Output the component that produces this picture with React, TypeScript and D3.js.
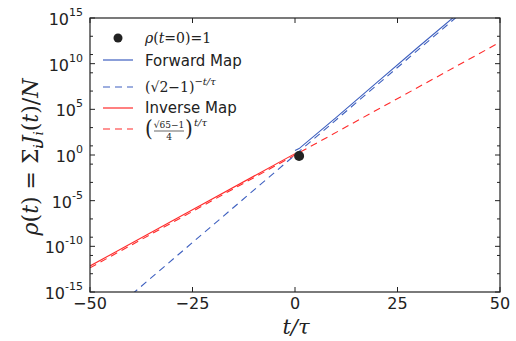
import React from "react";
import * as d3 from "d3";

// values are [t/tau, log10(rho)]
const forwardMap: [number, number][] = [[0, 0.5], [1, 0.7], [10, 4.1], [20, 7.95], [30, 11.8], [39, 15.2]];
const forwardFit: [number, number][] = [[-42, -16.1], [0, 0], [42, 16.1]];
const inverseMap: [number, number][] = [[-50, -12.15], [-25, -6.0], [0, 0.15]];
const inverseFit: [number, number][] = [[-50, -12.35], [0, 0], [50, 12.35]];
const startPoint: [number, number] = [1, -0.1];

const xTicks = [-50, -25, 0, 25, 50];
const yMajor = [15, 10, 5, 0, -5, -10, -15];
const yMinor = [13, 11, 9, 7, 3, 1, -1, -3, -7, -9, -11, -13];

const W = 516, H = 341;
const m = { left: 90, right: 16, top: 18, bottom: 49 };
const BLUE = "#3d5fbf";
const RED = "#ff2a2a";
const SANS = "'DejaVu Sans', sans-serif";
const SERIF = "'DejaVu Serif', 'Liberation Serif', serif";

export default function App() {
  const x = d3.scaleLinear().domain([-50, 50]).range([m.left, W - m.right]);
  const y = d3.scaleLinear().domain([-15, 15]).range([H - m.bottom, m.top]);
  const line = d3.line<[number, number]>().x(d => x(d[0])).y(d => y(d[1]));
  const x0 = m.left, x1 = W - m.right, y0 = H - m.bottom, y1 = m.top;

  const leg = { x: 103, x2: 133, tx: 145 };

  return (
    <svg width={W} height={H} style={{ position: "absolute", left: 0, top: 0, background: "#fff" }}>
      <defs>
        <clipPath id="plot"><rect x={x0} y={y1} width={x1 - x0} height={y0 - y1} /></clipPath>
      </defs>
      <g clipPath="url(#plot)" fill="none" strokeWidth={1.1}>
        <path d={line(forwardMap)!} stroke={BLUE} />
        <path d={line(inverseMap)!} stroke={RED} />
        <path d={line(forwardFit)!} stroke={BLUE} strokeDasharray="7,5" />
        <path d={line(inverseFit)!} stroke={RED} strokeDasharray="7,5" />
      </g>
      <circle cx={x(startPoint[0])} cy={y(startPoint[1])} r={5} fill="#222" />

      {/* frame */}
      <rect x={x0} y={y1} width={x1 - x0} height={y0 - y1} fill="none" stroke="#222" strokeWidth={1.2} />

      {/* x ticks */}
      {xTicks.map(t => (
        <g key={"x" + t}>
          <line x1={x(t)} x2={x(t)} y1={y0} y2={y0 - 5} stroke="#222" />
          <line x1={x(t)} x2={x(t)} y1={y1} y2={y1 + 5} stroke="#222" />
          <text x={x(t)} y={y0 + 17} textAnchor="middle" fontFamily={SANS} fontSize={16} fill="#222">
            {t < 0 ? "\u2212" + Math.abs(t) : t}
          </text>
        </g>
      ))}

      {/* y ticks */}
      {yMajor.map(v => (
        <g key={"y" + v}>
          <line x1={x0} x2={x0 + 5} y1={y(v)} y2={y(v)} stroke="#222" />
          <line x1={x1} x2={x1 - 5} y1={y(v)} y2={y(v)} stroke="#222" />
          <text x={83} y={y(v) + 7} textAnchor="end" fontFamily={SANS} fill="#222">
            <tspan fontSize={16}>10</tspan>
            <tspan fontSize={11} dy={-9}>{v}</tspan>
          </text>
        </g>
      ))}
      {yMinor.map(v => (
        <g key={"ym" + v}>
          <line x1={x0} x2={x0 + 3} y1={y(v)} y2={y(v)} stroke="#222" />
          <line x1={x1} x2={x1 - 3} y1={y(v)} y2={y(v)} stroke="#222" />
        </g>
      ))}

      {/* axis labels */}
      <text x={296} y={334} textAnchor="middle" fontFamily={SERIF} fontStyle="italic" fontSize={21} fill="#222">
        t/τ
      </text>
      <text transform={`translate(38,${157}) rotate(-90)`} textAnchor="middle" fontFamily={SERIF} fontSize={22} fill="#222">
        <tspan fontStyle="italic">ρ</tspan>(<tspan fontStyle="italic">t</tspan>) = Σ
        <tspan fontStyle="italic" fontSize={13} dy={5}>i</tspan>
        <tspan fontStyle="italic" dy={-5}>J</tspan>
        <tspan fontStyle="italic" fontSize={13} dy={5}>i</tspan>
        <tspan dy={-5}>(</tspan><tspan fontStyle="italic">t</tspan>)/<tspan fontStyle="italic">N</tspan>
      </text>

      {/* legend */}
      <circle cx={118} cy={38} r={4.5} fill="#222" />
      <text x={leg.tx} y={43} fontFamily={SERIF} fontSize={14} fill="#222">
        <tspan fontStyle="italic">ρ</tspan>(<tspan fontStyle="italic">t</tspan>=0)=1
      </text>

      <line x1={leg.x} x2={leg.x2} y1={60} y2={60} stroke={BLUE} strokeWidth={1.2} />
      <text x={leg.tx} y={66} fontFamily={SANS} fontSize={15} fill="#222">Forward Map</text>

      <line x1={leg.x} x2={leg.x2} y1={87} y2={87} stroke={BLUE} strokeWidth={1.2} strokeDasharray="7,5" />
      <text x={leg.tx} y={92} fontFamily={SERIF} fontSize={14} fill="#222">
        (√2−1)<tspan fontSize={10} dy={-7} fontStyle="italic">−t/τ</tspan>
      </text>

      <line x1={leg.x} x2={leg.x2} y1={108} y2={108} stroke={RED} strokeWidth={1.2} />
      <text x={leg.tx} y={113} fontFamily={SANS} fontSize={15} fill="#222">Inverse Map</text>

      <line x1={leg.x} x2={leg.x2} y1={129} y2={129} stroke={RED} strokeWidth={1.2} strokeDasharray="7,5" />
      <g fontFamily={SERIF} fill="#222">
        <text x={leg.tx} y={136} fontSize={20} transform={`translate(${leg.tx},136) scale(1,1.15) translate(${-leg.tx},-136)`}>(</text>
        <text x={leg.tx + 24} y={128} fontSize={9} textAnchor="middle">√65−1</text>
        <line x1={leg.tx + 9} x2={leg.tx + 39} y1={131} y2={131} stroke="#222" strokeWidth={0.7} />
        <text x={leg.tx + 24} y={140} fontSize={9} textAnchor="middle">4</text>
        <text x={leg.tx + 40} y={136} fontSize={20} transform={`translate(${leg.tx + 40},136) scale(1,1.15) translate(${-leg.tx - 40},-136)`}>)</text>
        <text x={leg.tx + 49} y={126} fontSize={10} fontStyle="italic">t/τ</text>
      </g>
    </svg>
  );
}
